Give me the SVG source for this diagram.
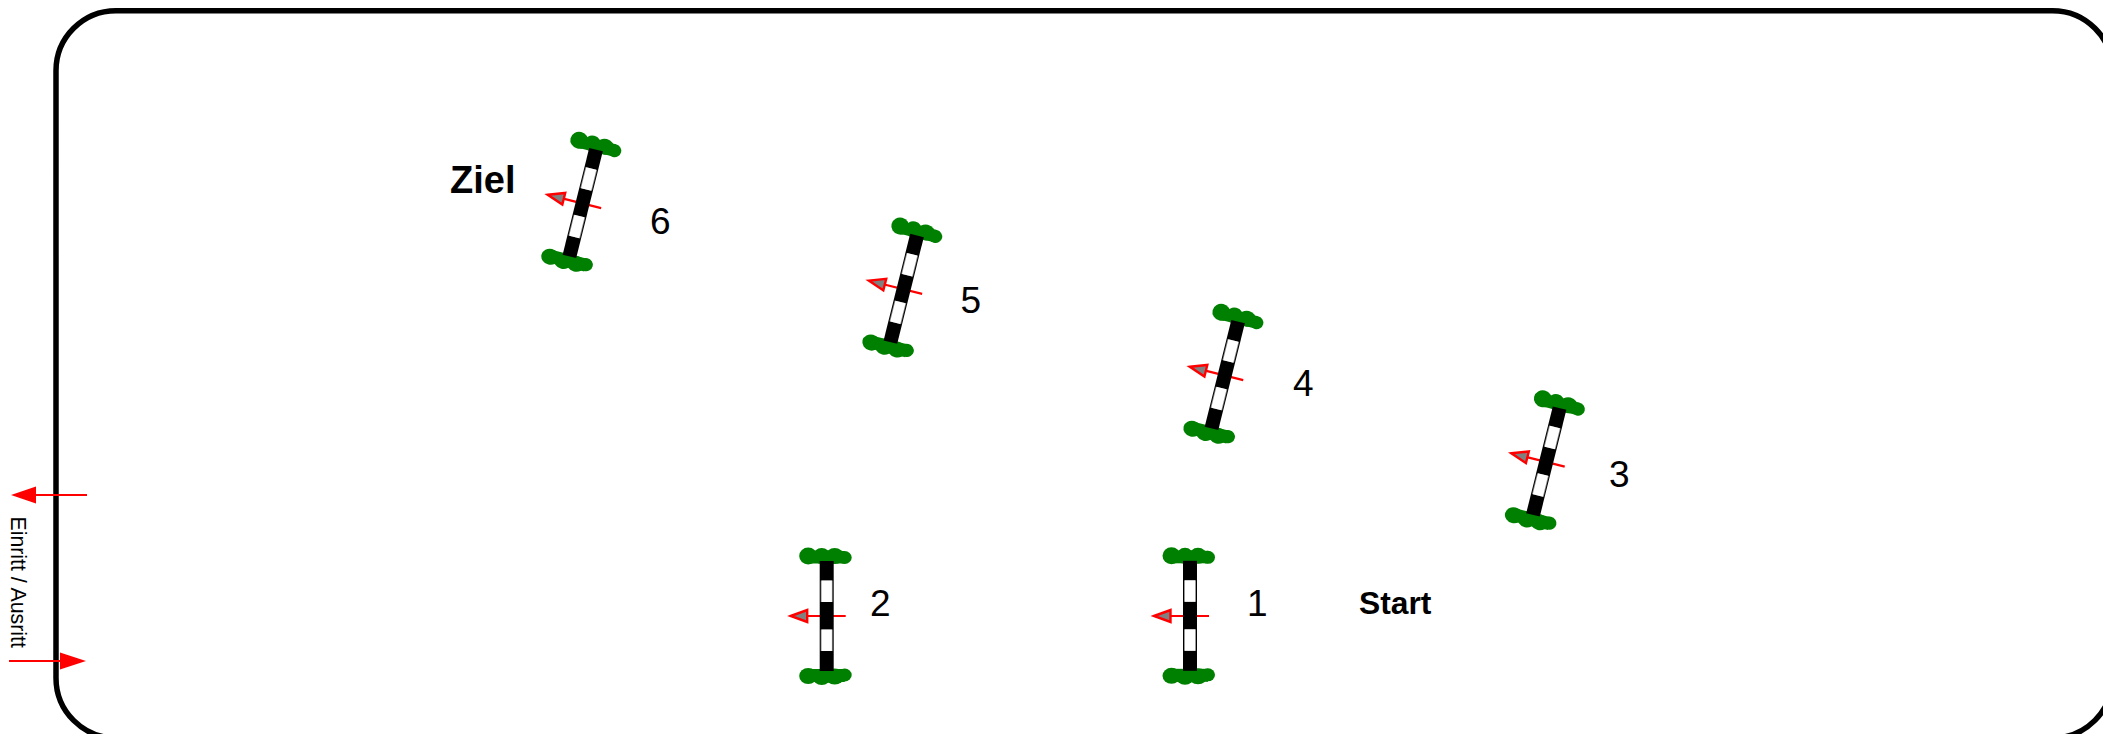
<svg xmlns="http://www.w3.org/2000/svg" width="2103" height="734" viewBox="0 0 2103 734">
<style>
.t{font-family:"Liberation Sans",Arial,sans-serif;fill:#000}
.n{font-size:37px}
.g{fill:#008000}
.a{stroke:#f00;stroke-width:2.200;fill:none}
.h{fill:#808080;stroke:#f00;stroke-width:2.400}
</style>
<defs>
<g id="gate">
<g class="g">
<ellipse cx="-18.500" cy="-60" rx="9" ry="8.500"/><ellipse cx="-5" cy="-60" rx="8.500" ry="8"/><ellipse cx="8" cy="-60" rx="9" ry="8"/><ellipse cx="18" cy="-58.500" rx="7" ry="6.500"/><rect x="-20" y="-65" width="38" height="12.500"/>
<ellipse cx="-18.500" cy="60" rx="9" ry="8"/><ellipse cx="-5" cy="61" rx="9" ry="8"/><ellipse cx="8" cy="60.500" rx="9.500" ry="8"/><ellipse cx="18" cy="59" rx="7" ry="6.500"/><rect x="-20" y="53" width="38" height="13"/>
</g>
<rect x="-7" y="-55" width="14" height="110" fill="#000"/>
<rect x="-6" y="-35.500" width="12" height="21.500" fill="#808080"/>
<rect x="-5.200" y="-35.500" width="10.400" height="21.500" fill="#fff"/>
<rect x="-6" y="13.500" width="12" height="21.500" fill="#808080"/>
<rect x="-5.200" y="13.500" width="10.400" height="21.500" fill="#fff"/>
</g>
<g id="arrow">
<path class="a" d="M19 0H-19"/>
<path class="h" d="M-36 0L-19.500-6V6Z"/>
</g>
</defs>
<rect id="frame" x="56" y="10.700" width="2056.500" height="727.300" rx="60" ry="60" fill="none" stroke="#000" stroke-width="5.500"/>
<g id="connectors">
<use href="#arrow" transform="translate(1190,616)"/>
<use href="#arrow" transform="translate(826.700,616)"/>
<use href="#arrow" transform="translate(1546.300,462) rotate(14)"/>
<use href="#arrow" transform="translate(1224.800,375.500) rotate(14)"/>
<use href="#arrow" transform="translate(903.700,289.300) rotate(14)"/>
<use href="#arrow" transform="translate(582.700,203.500) rotate(14)"/>
<path d="M87 495H35" stroke="#f00" stroke-width="2" fill="none"/>
<path d="M11 495L36 486.500V503.500Z" fill="#f00"/>
<path d="M9 661H60" stroke="#f00" stroke-width="2" fill="none"/>
<path d="M86 661L60 652.500V669.500Z" fill="#f00"/>
</g>
<g id="gate1"><use href="#gate" transform="translate(1190,615.800)"/></g>
<g id="gate2"><use href="#gate" transform="translate(826.700,616)"/></g>
<g id="gate3"><use href="#gate" transform="translate(1546.300,461.500) rotate(14)"/></g>
<g id="gate4"><use href="#gate" transform="translate(1224.800,375) rotate(14)"/></g>
<g id="gate5"><use href="#gate" transform="translate(903.700,288.800) rotate(14)"/></g>
<g id="gate6"><use href="#gate" transform="translate(582.700,203) rotate(14)"/></g>
<text class="t n" x="1247" y="616">1</text>
<text class="t n" x="870" y="616">2</text>
<text class="t n" x="1609" y="487">3</text>
<text class="t n" x="1293" y="396">4</text>
<text class="t n" x="960.500" y="313">5</text>
<text class="t n" x="650" y="234">6</text>
<text class="t" x="1359" y="614" font-size="31.800" font-weight="bold">Start</text>
<text class="t" x="450" y="193" font-size="38" font-weight="bold">Ziel</text>
<text class="t" transform="translate(11,516.500) rotate(90)" font-size="21.300">Einritt / Ausritt</text>
</svg>
